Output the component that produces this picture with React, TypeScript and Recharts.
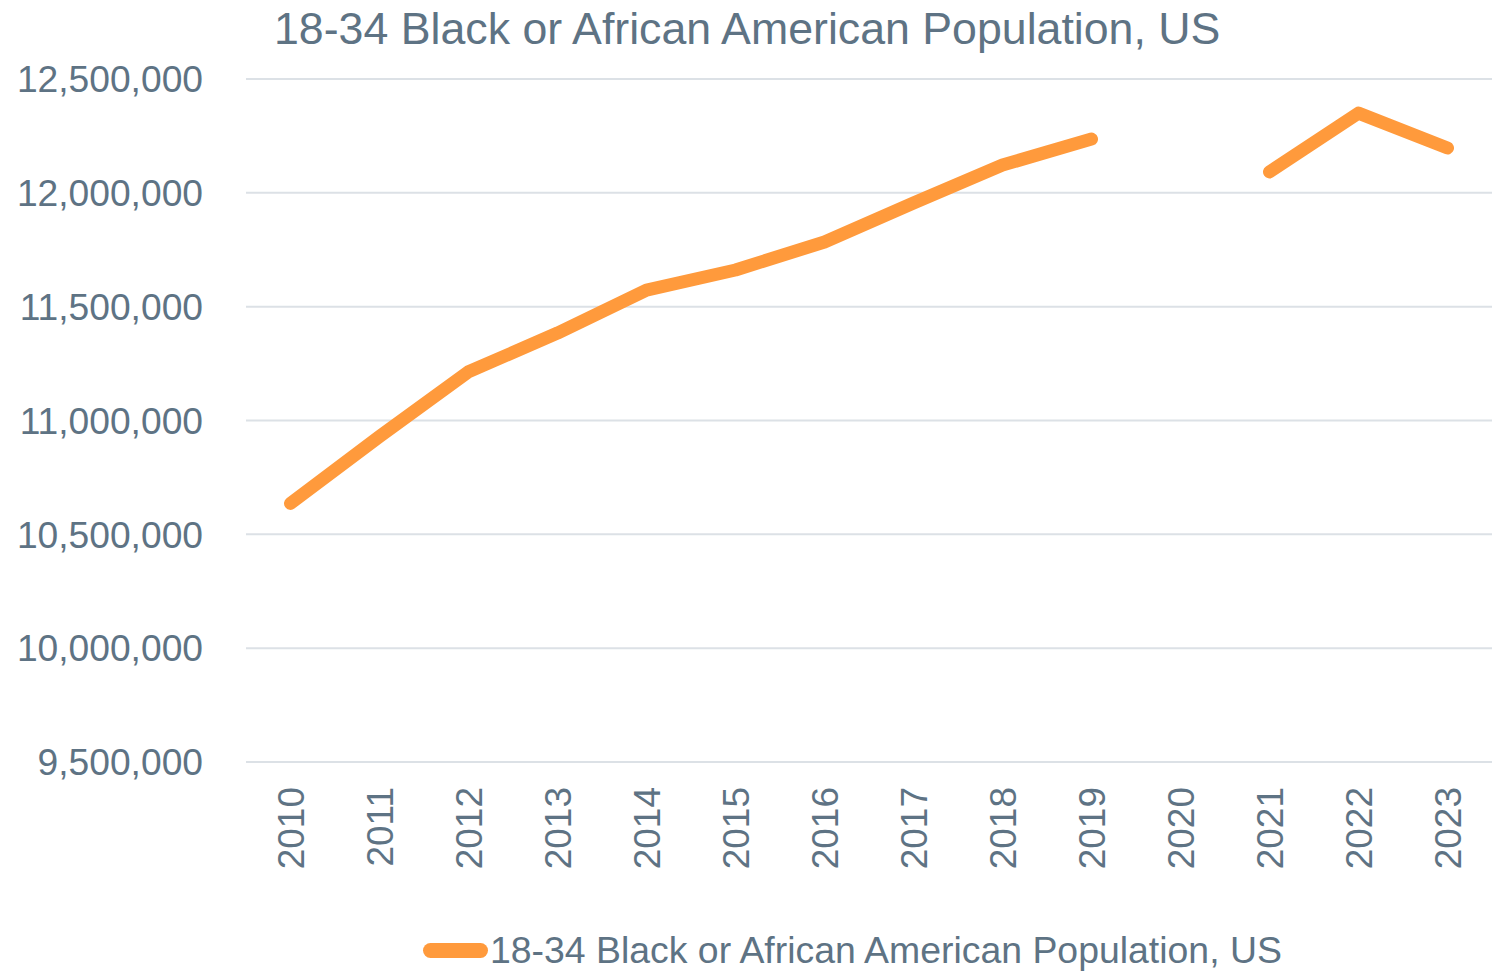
import React from 'react';
import { LineChart, Line, XAxis, YAxis, CartesianGrid, Legend } from 'recharts';

const years = ['2010', '2011', '2012', '2013', '2014', '2015', '2016', '2017', '2018', '2019', '2020', '2021', '2022', '2023'];
const population: (number | null)[] = [
  10636000, 10930000, 11214000, 11384000, 11573000, 11661000, 11784000,
  11955000, 12122000, 12236000, null, 12092000, 12350000, 12197000,
];
const yTicks = [9500000, 10000000, 10500000, 11000000, 11500000, 12000000, 12500000];
const seriesName = '18-34 Black or African American Population, US';
const titleText = '18-34 Black or African American Population, US';

const data = years.map((year, i) => ({ year, value: population[i] }));

const FONT = "'Liberation Sans', Arial, Helvetica, sans-serif";
const TEXT = '#5E7384';
const ORANGE = '#FF9A3C';
const GRID = '#DCE1E6';

const fmt = (v: number) => v.toLocaleString('en-US');

const YTick = (props: any) => {
  const { x, y, payload } = props;
  return (
    <text x={x} y={y} dy="0.355em" textAnchor="end" fontSize={37.2} fontFamily={FONT} fill={TEXT}>
      {fmt(payload.value)}
    </text>
  );
};

const XTick = (props: any) => {
  const { x, y, payload } = props;
  return (
    <text
      transform={`translate(${x},${y}) rotate(-90)`}
      dy="0.355em"
      textAnchor="end"
      fontSize={37}
      fontFamily={FONT}
      fill={TEXT}
    >
      {payload.value}
    </text>
  );
};

const LegendContent = () => (
  <div style={{ display: 'flex', alignItems: 'center', fontFamily: FONT, fontSize: 37.4, lineHeight: '37px', color: TEXT, whiteSpace: 'nowrap' }}>
    <span style={{ display: 'inline-block', width: 65, height: 15, borderRadius: 8, background: ORANGE, marginRight: 2 }} />
    <span>{seriesName}</span>
  </div>
);

export default function App() {
  return (
    <div style={{ position: 'absolute', left: 0, top: 0, width: 1498, height: 973, background: '#fff' }}>
      <div
        style={{
          position: 'absolute',
          left: 274,
          top: 6,
          fontFamily: FONT,
          fontSize: 44.7,
          lineHeight: '45px',
          color: TEXT,
          whiteSpace: 'nowrap',
          zIndex: 2,
        }}
      >
        {titleText}
      </div>
      <LineChart width={1498} height={973} data={data} margin={{ top: 79, right: 6, left: 0, bottom: 0 }}>
        <CartesianGrid vertical={false} horizontal stroke={GRID} strokeWidth={2} />
        <XAxis
          dataKey="year"
          axisLine={false}
          tickLine={false}
          tickSize={0}
          tickMargin={25}
          height={211}
          interval={0}
          padding={{ left: 44.5, right: 44.5 }}
          tick={<XTick />}
        />
        <YAxis
          domain={[9500000, 12500000]}
          ticks={yTicks}
          axisLine={false}
          tickLine={false}
          tickSize={0}
          tickMargin={43}
          width={246}
          interval={0}
          tick={<YTick />}
        />
        <Legend
          layout="vertical"
          align="center"
          verticalAlign="middle"
          wrapperStyle={{ left: 423, top: 932, width: 'auto' }}
          content={<LegendContent />}
        />
        <Line
          type="linear"
          dataKey="value"
          name={seriesName}
          stroke={ORANGE}
          strokeWidth={13}
          strokeLinecap="round"
          strokeLinejoin="round"
          dot={false}
          activeDot={false}
          connectNulls={false}
          isAnimationActive={false}
        />
      </LineChart>
    </div>
  );
}
